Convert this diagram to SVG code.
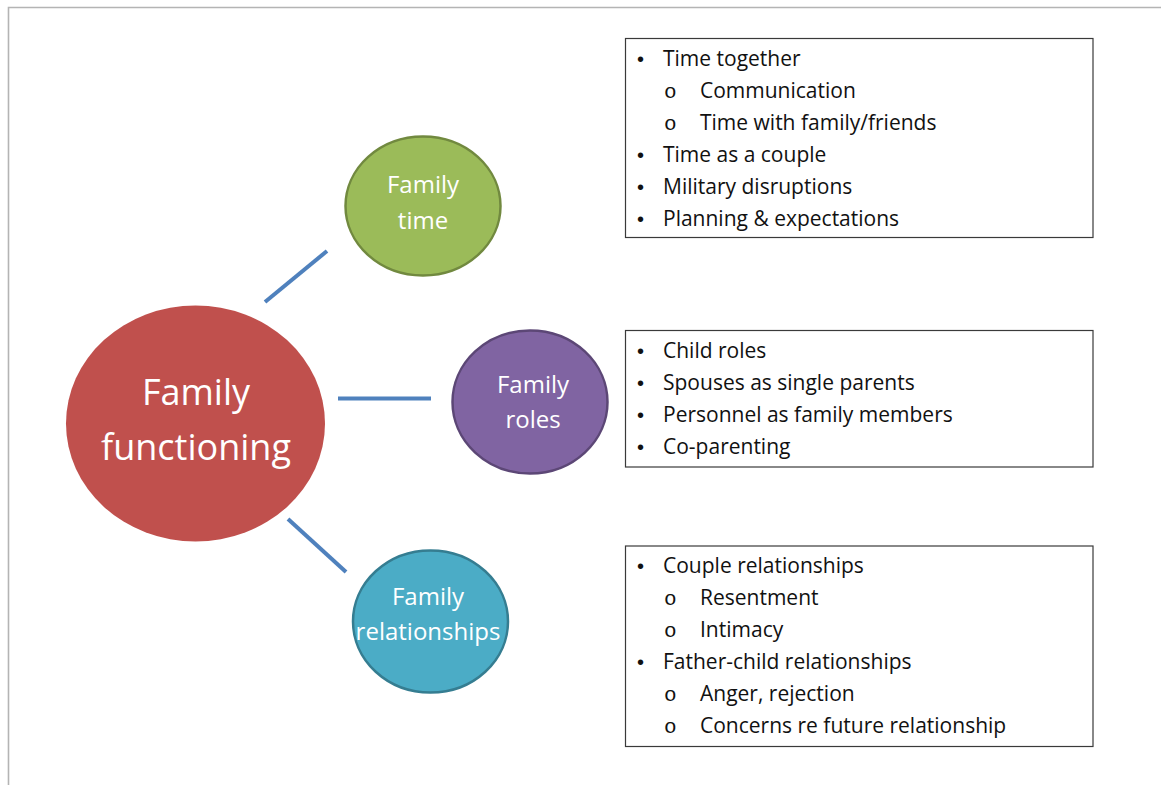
<svg xmlns="http://www.w3.org/2000/svg" width="1161" height="785" viewBox="0 0 1161 785">
<style>
.frame{fill:none;stroke:#b4b4b4;stroke-width:1.6}
.conn{stroke:#4F81BD;stroke-width:4;fill:none}
.box{fill:#fff;stroke:#3a3a3a;stroke-width:1.2}
.ct{font-family:"Open Sans","Liberation Sans",sans-serif;fill:#fff;text-anchor:middle}
.bt{font-family:"Open Sans","Liberation Sans",sans-serif;font-size:21px;fill:#111}
.bu{font-family:"Liberation Sans",Arial,sans-serif;font-size:20px;fill:#111}
.sb{font-family:"Liberation Mono","Courier New",monospace;font-size:21px;fill:#111}
</style>
<rect width="1161" height="785" fill="#fff"/>
<path class="frame" d="M8.5,785 V7.5 H1161"/>
<g id="connectors">
<line class="conn" x1="265" y1="302" x2="327" y2="251"/>
<line class="conn" x1="338" y1="398.5" x2="431" y2="398.5"/>
<line class="conn" x1="288" y1="519" x2="346" y2="572"/>
</g>
<g id="family-functioning">
<ellipse cx="195.5" cy="423.5" rx="129.5" ry="118" fill="#C0504D"/>
<text class="ct" x="196" y="405" font-size="36">Family</text>
<text class="ct" x="196" y="460" font-size="36">functioning</text>
</g>
<g id="family-time">
<ellipse cx="423" cy="206" rx="77.5" ry="69.5" fill="#9BBB59" stroke="#71893F" stroke-width="2.5"/>
<text class="ct" x="423" y="193" font-size="24">Family</text>
<text class="ct" x="423" y="229" font-size="24">time</text>
</g>
<g id="family-roles">
<ellipse cx="530" cy="402" rx="77.5" ry="71.5" fill="#8064A2" stroke="#5C4776" stroke-width="2.5"/>
<text class="ct" x="533" y="392.5" font-size="24">Family</text>
<text class="ct" x="533" y="428" font-size="24">roles</text>
</g>
<g id="family-relationships">
<ellipse cx="430.5" cy="621.5" rx="77.5" ry="71" fill="#4BACC6" stroke="#357D91" stroke-width="2.5"/>
<text class="ct" x="428" y="605" font-size="24">Family</text>
<text class="ct" x="428" y="640" font-size="24">relationships</text>
</g>
<g id="box-time">
<rect class="box" x="625.5" y="38.5" width="467.5" height="199"/>
<text class="bu" x="637" y="66">•</text><text class="bt" x="663" y="66">Time together</text>
<text class="sb" x="664" y="98">o</text><text class="bt" x="700" y="98">Communication</text>
<text class="sb" x="664" y="130">o</text><text class="bt" x="700" y="130">Time with family/friends</text>
<text class="bu" x="637" y="162">•</text><text class="bt" x="663" y="162">Time as a couple</text>
<text class="bu" x="637" y="194">•</text><text class="bt" x="663" y="194">Military disruptions</text>
<text class="bu" x="637" y="226">•</text><text class="bt" x="663" y="226">Planning &amp; expectations</text>
</g>
<g id="box-roles">
<rect class="box" x="625.5" y="330.5" width="467.5" height="136.5"/>
<text class="bu" x="637" y="358">•</text><text class="bt" x="663" y="358">Child roles</text>
<text class="bu" x="637" y="390">•</text><text class="bt" x="663" y="390">Spouses as single parents</text>
<text class="bu" x="637" y="422">•</text><text class="bt" x="663" y="422">Personnel as family members</text>
<text class="bu" x="637" y="454">•</text><text class="bt" x="663" y="454">Co-parenting</text>
</g>
<g id="box-relationships">
<rect class="box" x="625.5" y="546" width="467.5" height="200.5"/>
<text class="bu" x="637" y="573">•</text><text class="bt" x="663" y="573">Couple relationships</text>
<text class="sb" x="664" y="605">o</text><text class="bt" x="700" y="605">Resentment</text>
<text class="sb" x="664" y="637">o</text><text class="bt" x="700" y="637">Intimacy</text>
<text class="bu" x="637" y="669">•</text><text class="bt" x="663" y="669">Father-child relationships</text>
<text class="sb" x="664" y="701">o</text><text class="bt" x="700" y="701">Anger, rejection</text>
<text class="sb" x="664" y="733">o</text><text class="bt" x="700" y="733">Concerns re future relationship</text>
</g>
</svg>
